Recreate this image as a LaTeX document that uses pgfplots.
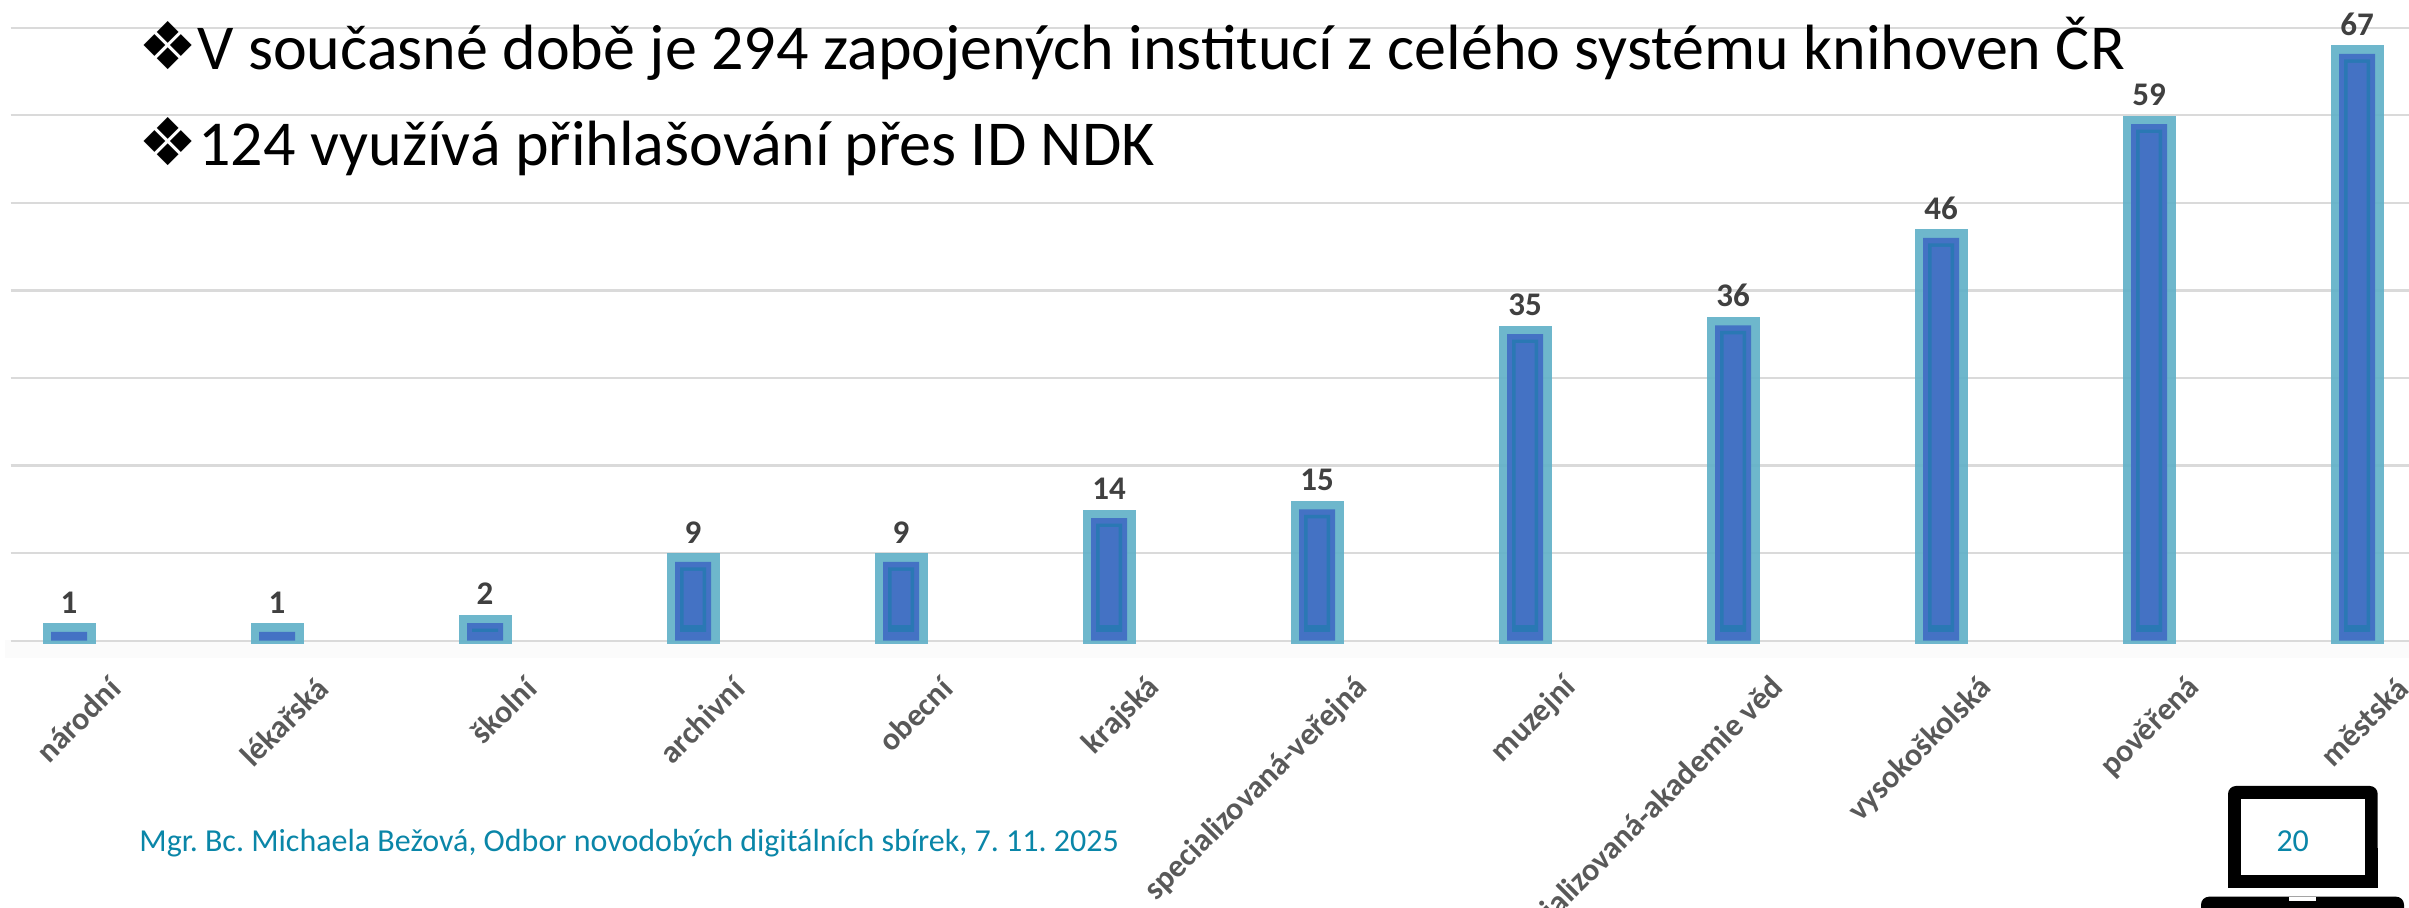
\documentclass[border=0pt]{standalone}
\usepackage{pgfplots}
\pgfplotsset{compat=1.18}
\usepackage{pgfplotstable}
\usepackage{fontspec}
\setmainfont{Carlito}
\newfontfamily\dejavu{DejaVu Sans}
\definecolor{gridc}{HTML}{DADADA}
\definecolor{ringlight}{HTML}{62B1C8}
\definecolor{mainblue}{HTML}{4472C4}
\definecolor{ringdark}{HTML}{2A78B4}
\definecolor{foot}{HTML}{0A86A8}
\definecolor{lab}{HTML}{595959}
\definecolor{val}{HTML}{404040}
\pgfplotstableread{
x val
0 1
1 1
2 2
3 9
4 9
5 14
6 15
7 35
8 36
9 46
10 59
11 67
}\datatable
\begin{document}
\frenchspacing
\begin{tikzpicture}[x=0.5pt,y=0.5pt]
\begin{scope}
\clip (0,0) rectangle (2409,908);
\fill[white] (0,0) rectangle (2409,908);
\fill[black!1.5] (5,250) rectangle (2409,268);
\begin{axis}[
  at={(33.2,305.2)}, anchor=origin, scale only axis,
  width=1199pt, height=321.35pt,
  xmin=-0.2808, xmax=11.248, ymin=-0.308, ymax=73.08,
  axis line style={draw=none}, tick style={draw=none},
  major tick length=0pt,
  ytick={0,10,...,70}, yticklabels={},
  ymajorgrids, grid style={gridc,line width=1.1pt},
  xtick={0,...,11},
  xticklabels={národní,lékařská,školní,archivní,obecní,krajská,specializovaná-veřejná,muzejní,specializovaná-akademie věd,vysokoškolská,pověřená,městská},
  xticklabel style={rotate=45,anchor=east,xshift=2.3pt,yshift=-30.2pt,text=lab,
    font=\fontsize{16pt}{18pt}\selectfont\bfseries,inner sep=0pt},
]
\addplot[ybar,bar width=18pt,bar shift=0pt,draw=ringlight,draw opacity=0.92,line width=8.5pt,fill=none] table[x=x,y=val]{\datatable};
\addplot[ybar,bar width=18pt,bar shift=0pt,fill=mainblue,draw=none,
  nodes near coords,
  every node near coord/.append style={anchor=south,yshift=9pt,inner sep=0pt,text=val,
    font=\fontsize{16.5pt}{18pt}\selectfont\bfseries},
  /pgf/number format/assume math mode=true,
  /pgf/number format/precision=0] table[x=x,y=val]{\datatable};
\addplot[ybar,bar width=13pt,bar shift=0pt,fill=ringdark,draw=none,yshift=-2.75pt,
  execute at begin plot visualization={\clip (axis cs:-1,1.09) rectangle (axis cs:12,80);}] table[x=x,y=val]{\datatable};
\addplot[ybar,bar width=9.5pt,bar shift=0pt,fill=mainblue,draw=none,yshift=-4.5pt,
  execute at begin plot visualization={\clip (axis cs:-1,1.86) rectangle (axis cs:12,80);}] table[x=x,y=val]{\datatable};
\draw[gridc,line width=1.1pt] (axis cs:-0.2808,0) -- (axis cs:11.248,0);
\end{axis}
\end{scope}
\begin{scope}
\clip (0,0) rectangle (2409,908);
% header text
\node[anchor=base west,inner sep=0pt,font=\dejavu\fontsize{33pt}{38pt}\selectfont] at (138,838) {❖};
\node[anchor=base west,inner sep=0pt,font=\fontsize{32pt}{36pt}\selectfont] at (197,838) {V současné době je 294 zapojených institucí z celého systému knihoven ČR};
\node[anchor=base west,inner sep=0pt,font=\dejavu\fontsize{33pt}{38pt}\selectfont] at (138,742) {❖};
\node[anchor=base west,inner sep=0pt,font=\fontsize{32pt}{36pt}\selectfont] at (198,742) {124 využívá přihlašování přes ID NDK};
% footer
\node[anchor=base west,inner sep=0pt,text=foot,font=\fontsize{16pt}{18pt}\selectfont] at (139,56.3) {Mgr. Bc. Michaela Bežová, Odbor novodobých digitálních sbírek, 7. 11. 2025};
% laptop
\fill[black,rounded corners=4pt] (2228,20.3) -- (2228,122) -- (2377.7,122) -- (2377.7,20.3) -- cycle;
\fill[black] (2228,20.3) rectangle (2377.7,60);
\fill[white] (2241,33) rectangle (2364.7,108.7);
\fill[black,rounded corners=4pt] (2201,11.3) -- (2404,11.3) -- (2404,-20) -- (2201,-20) -- cycle;
\fill[white] (2289,11.3) rectangle (2316,7);
\node[anchor=center,inner sep=0pt,text=foot,font=\fontsize{16pt}{19pt}\selectfont] at (2292.7,66.3) {20};
\end{scope}
\pgfresetboundingbox
\path[use as bounding box] (0,0) rectangle (2409,908);
\end{tikzpicture}
\end{document}
